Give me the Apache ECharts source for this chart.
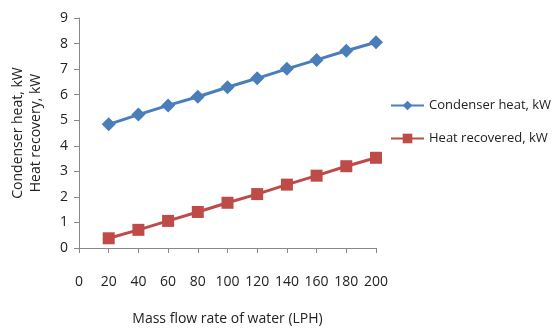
<!DOCTYPE html>
<html>
<head>
<meta charset="utf-8">
<script src="https://cdn.jsdelivr.net/npm/echarts@6/dist/echarts.min.js"></script>
<style>
  html, body { margin: 0; padding: 0; background: #fff; }
  #chart { width: 554px; height: 331px; }
</style>
</head>
<body>
<div id="chart"></div>
<script>
// flow rates (LPH)
const flowRates = [20, 40, 60, 80, 100, 120, 140, 160, 180, 200]
// condenser heat, kW
const condenserHeat = [4.84, 5.22, 5.58, 5.92, 6.29, 6.64, 7.01, 7.36, 7.72, 8.05]
// heat recovered, kW
const heatRecovered = [0.38, 0.71, 1.06, 1.41, 1.77, 2.11, 2.48, 2.83, 3.20, 3.53]

const font = '"Open Sans", sans-serif'
const pair = (xs, ys) => xs.map((x, i) => [x, ys[i]])

const chart = echarts.init(document.getElementById('chart'))
chart.setOption({
  animation: false,
  textStyle: { fontFamily: font },
  grid: { left: 79, top: 18, width: 297, height: 230, containLabel: false, outerBoundsMode: 'none' },
  xAxis: {
    type: 'value',
    min: 0,
    max: 200,
    interval: 20,
    name: 'Mass flow rate of water (LPH)',
    nameLocation: 'middle',
    nameGap: 64,
    nameTextStyle: { fontSize: 14, color: '#222', fontFamily: font },
    axisLine: { show: true, lineStyle: { color: '#888' } },
    axisTick: { show: true, length: 5, lineStyle: { color: '#888' } },
    axisLabel: { margin: 27, fontSize: 14, color: '#222', fontFamily: font },
    splitLine: { show: false }
  },
  yAxis: {
    type: 'value',
    min: 0,
    max: 9,
    interval: 1,
    name: 'Condenser heat, kW\nHeat recovery, kW',
    nameLocation: 'middle',
    nameRotate: 90,
    nameGap: 34,
    nameTextStyle: { fontSize: 14, color: '#222', fontFamily: font, lineHeight: 18 },
    axisLine: { show: true, lineStyle: { color: '#888' } },
    axisTick: { show: true, length: 5, lineStyle: { color: '#888' } },
    axisLabel: { margin: 11, fontSize: 14, color: '#222', fontFamily: font },
    splitLine: { show: false }
  },
  legend: {
    orient: 'vertical',
    left: 385,
    top: 94,
    itemGap: 20,
    itemWidth: 33,
    itemHeight: 12,
    textStyle: { fontSize: 13, color: '#222', fontFamily: font },
    data: ['Condenser heat, kW', 'Heat recovered, kW']
  },
  series: [
    {
      name: 'Condenser heat, kW',
      type: 'line',
      data: pair(flowRates, condenserHeat),
      symbol: 'diamond',
      symbolSize: 14,
      lineStyle: { width: 3, color: '#4a7ebb' },
      itemStyle: { color: '#4a7ebb' }
    },
    {
      name: 'Heat recovered, kW',
      type: 'line',
      data: pair(flowRates, heatRecovered),
      symbol: 'rect',
      symbolSize: 12,
      lineStyle: { width: 3, color: '#be4b48' },
      itemStyle: { color: '#be4b48' }
    }
  ]
})
</script>
</body>
</html>
